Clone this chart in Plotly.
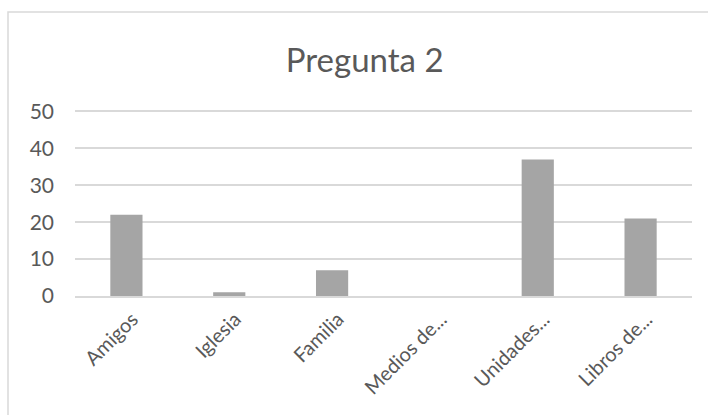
import plotly.graph_objects as go

categorias = ["Amigos", "Iglesia", "Familia", "Medios de...", "Unidades...", "Libros de..."]
valores = [22, 1, 7, 0, 37, 21]
y_ticks = [0, 10, 20, 30, 40, 50]

W, H = 708, 415
L, R, T, B = 75, 16, 110, 119
pw = W - L - R
ph = H - T - B

gris_texto = "#595959"
gris_linea = "#d9d9d9"

fig = go.Figure(
    go.Bar(x=categorias, y=valores, marker=dict(color="#a5a5a5", line=dict(width=0)))
)

# borde del área del gráfico (recortado a la derecha y abajo)
def px_x(v):
    return (v - L) / pw

def px_y(v):
    return (T + ph - v) / ph

fig.add_shape(type="rect", xref="paper", yref="paper",
              x0=px_x(8), x1=px_x(W + 20), y0=px_y(H + 20), y1=px_y(12),
              line=dict(color=gris_linea, width=1.5), layer="below")

fig.update_layout(
    width=W, height=H,
    margin=dict(l=L, r=R, t=T, b=B, autoexpand=False),
    paper_bgcolor="white", plot_bgcolor="white",
    font=dict(family="Lato", color=gris_texto, size=21),
    title=dict(text="Pregunta 2", x=0.515, xanchor="center", y=0.855, yanchor="middle",
               font=dict(size=33, color=gris_texto)),
    bargap=0.687,
    showlegend=False,
)
fig.update_yaxes(range=[0, 50.4], tickvals=y_ticks, showgrid=True, gridcolor=gris_linea,
                 gridwidth=1.5, zeroline=False, showline=False, ticks="",
                 ticklabelstandoff=20, automargin=False)
fig.update_xaxes(tickangle=-45, showline=True, linecolor=gris_linea, linewidth=1.5,
                 ticks="", ticklabelstandoff=2, ticklabelshift=6, automargin=False,
                 tickfont=dict(size=20))

# quitar el margen por defecto del <body>
fig.write_html("out.html", config={"displayModeBar": False},
               post_script="document.body.style.margin='0';")
